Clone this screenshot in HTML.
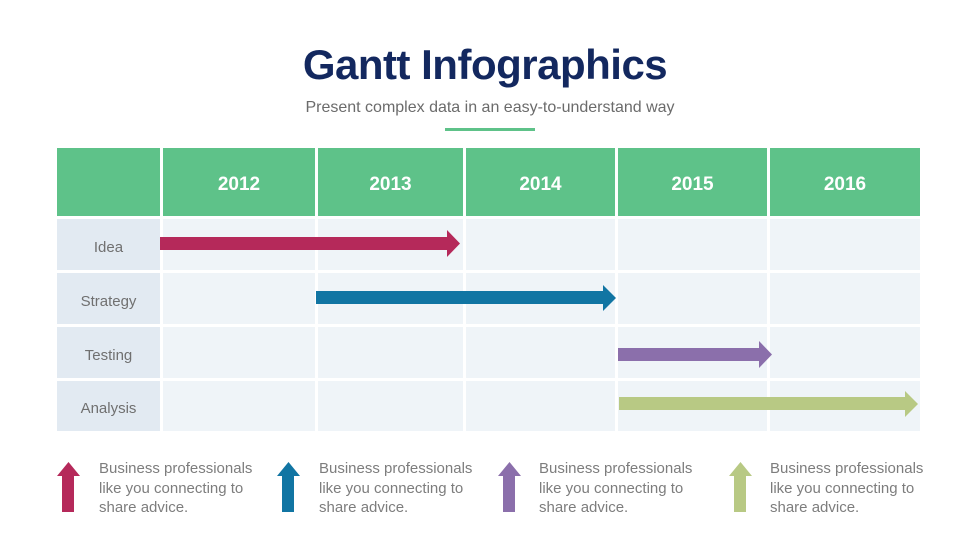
<!DOCTYPE html>
<html><head><meta charset="utf-8"><style>
body{margin:0;width:980px;height:551px;background:#fff;position:relative;overflow:hidden;font-family:"Liberation Sans",sans-serif}
.a{position:absolute}
h1{position:absolute;left:-5px;width:980px;top:41px;margin:0;text-align:center;font-size:42px;font-weight:bold;color:#13285f;letter-spacing:-0.5px}
.sub{left:0;width:980px;top:99px;text-align:center;font-size:16px;color:#6b6b6b}
.hd{background:#5ec289;color:#fff;font-weight:bold;font-size:19px;text-align:center;line-height:74px;top:148px;height:68px}
.lb{background:#e2eaf2;color:#707070;font-size:15px;text-align:center;left:57px;width:103px;padding-top:3px;box-sizing:border-box}
.c{background:#eff4f8}
.t{font-size:15px;color:#7d7d7d;line-height:19.5px;top:459px;width:170px}
</style></head><body>
<h1>Gantt Infographics</h1>
<div class="a sub">Present complex data in an easy-to-understand way</div>
<div class="a" style="left:445px;top:128px;width:90px;height:3px;background:#5ec289"></div>
<div class="a hd" style="left:57px;width:103px"></div>
<div class="a hd" style="left:163px;width:152px">2012</div>
<div class="a hd" style="left:318px;width:145px">2013</div>
<div class="a hd" style="left:466px;width:149px">2014</div>
<div class="a hd" style="left:618px;width:149px">2015</div>
<div class="a hd" style="left:770px;width:150px">2016</div>
<div id="g"></div>
<script>
var rows=[[219,270,'Idea'],[273,324,'Strategy'],[327,378,'Testing'],[381,431,'Analysis']];
var cols=[[163,315],[318,463],[466,615],[618,767],[770,920]];
var h='';
rows.forEach(function(r){h+='<div class="a lb" style="top:'+r[0]+'px;height:'+(r[1]-r[0])+'px;line-height:'+(r[1]-r[0])+'px">'+r[2]+'</div>';
cols.forEach(function(c){h+='<div class="a c" style="left:'+c[0]+'px;width:'+(c[1]-c[0])+'px;top:'+r[0]+'px;height:'+(r[1]-r[0])+'px"></div>';});});
document.getElementById('g').innerHTML=h;
</script>
<svg class="a" style="left:0;top:0" width="980" height="551">
<polygon fill="#b5295a" points="160,237 447,237 447,230 460,243.5 447,257 447,250 160,250"/>
<polygon fill="#1175a3" points="316,291 603,291 603,285 616,298 603,311 603,304 316,304"/>
<polygon fill="#8b6fab" points="618,348 759,348 759,341 772,354.5 759,368 759,361 618,361"/>
<polygon fill="#b8c984" points="619,397 905,397 905,391 918,404 905,417 905,410 619,410"/>
<polygon fill="#b5295a" points="62,512 62,476 57,476 68.5,462 80,476 74,476 74,512"/>
<polygon fill="#1175a3" points="282,512 282,476 277,476 288.5,462 300,476 294,476 294,512"/>
<polygon fill="#8b6fab" points="503,512 503,476 498,476 509.5,462 521,476 515,476 515,512"/>
<polygon fill="#b8c984" points="734,512 734,476 729,476 740.5,462 752,476 746,476 746,512"/>
</svg>
<div class="a t" style="left:99px">Business professionals like you connecting to share advice.</div>
<div class="a t" style="left:319px">Business professionals like you connecting to share advice.</div>
<div class="a t" style="left:539px">Business professionals like you connecting to share advice.</div>
<div class="a t" style="left:770px">Business professionals like you connecting to share advice.</div>
</body></html>
